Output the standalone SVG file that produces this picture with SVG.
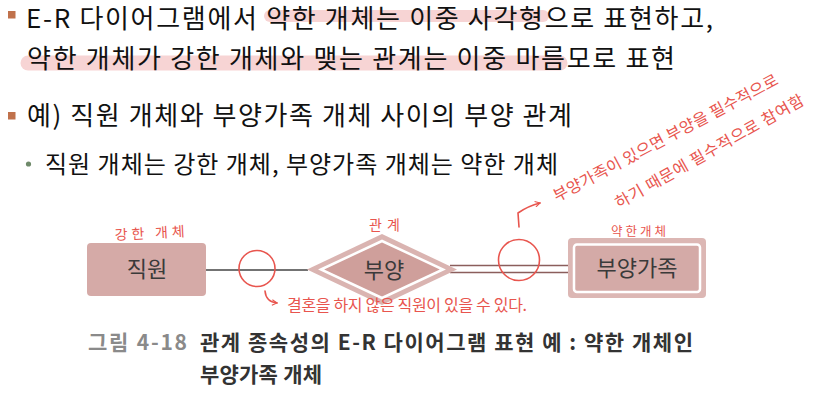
<svg xmlns="http://www.w3.org/2000/svg" width="820" height="403" viewBox="0 0 820 403">
<style>
.t{font-family:"Noto Sans CJK KR","Noto Sans",sans-serif;fill:#111}
.big{font-size:26px}
.mid{font-size:24px}
.hand{font-family:"Noto Sans CJK KR",sans-serif;fill:#e8554e}
.red{fill:none;stroke:#e8554e;stroke-width:1.6;stroke-linecap:round;stroke-linejoin:round}
.hl{fill:none;stroke:#f7d4d4;stroke-linecap:round}
.lbl{font-family:"Noto Sans CJK KR",sans-serif;font-size:22px;fill:#3a3a3a;text-anchor:middle}
.cap{font-family:"Noto Sans CJK KR",sans-serif;font-size:21px;font-weight:bold}
</style>
<defs>
<marker id="ah" viewBox="0 0 10 10" refX="8" refY="5" markerWidth="7" markerHeight="7" orient="auto" markerUnits="userSpaceOnUse">
<path d="M1,1 L8,5 L1,9" fill="none" stroke="#e8554e" stroke-width="1.6"/>
</marker>
</defs>
<rect width="820" height="403" fill="#ffffff"/>
<!-- highlights -->
<path class="hl" d="M270,16 L543,16" stroke-width="12"/>
<path class="hl" d="M28,63 L560,63" stroke-width="15"/>
<!-- bullets -->
<rect x="8" y="11" width="7.5" height="7.5" fill="#c0714b"/>
<rect x="8" y="112" width="7.5" height="7.5" fill="#c0714b"/>
<circle cx="28.5" cy="164" r="2.6" fill="#6f8a6a"/>
<text class="t big" x="26" y="28" textLength="687">E-R 다이어그램에서 약한 개체는 이중 사각형으로 표현하고,</text>
<text class="t big" x="27" y="68" textLength="648">약한 개체가 강한 개체와 맺는 관계는 이중 마름모로 표현</text>
<text class="t big" x="27" y="125" textLength="545">예) 직원 개체와 부양가족 개체 사이의 부양 관계</text>
<text class="t mid" x="45" y="173" textLength="513">직원 개체는 강한 개체, 부양가족 개체는 약한 개체</text>
<!-- connectors -->
<g id="connectors">
<line x1="206" y1="270" x2="308" y2="270" stroke="#444" stroke-width="1.6"/>
<line x1="450" y1="265.5" x2="568" y2="265.5" stroke="#8b5e5c" stroke-width="1.4"/>
<line x1="450" y1="272.5" x2="568" y2="272.5" stroke="#8b5e5c" stroke-width="1.4"/>
</g>
<!-- nodes -->
<g id="node-jikwon">
<rect x="87" y="243" width="119" height="53" rx="4" fill="#d5aaa7"/>
<text class="lbl" x="147" y="277">직원</text>
</g>
<g id="node-buyang">
<polygon points="307,269.5 382,234 457,269.5 382,305" fill="#dab4b1"/>
<polygon points="321,269.5 382,241 443,269.5 382,298" fill="#cf9f9b" stroke="#ffffff" stroke-width="2.5"/>
<text class="lbl" x="384" y="278" font-size="23">부양</text>
</g>
<g id="node-buyanggajok">
<rect x="568" y="238" width="138" height="60" rx="4" fill="#dcb7b4"/>
<rect x="574" y="244.5" width="126" height="47.5" rx="3" fill="#d4aaa7" stroke="#ffffff" stroke-width="2.5"/>
<text class="lbl" x="637" y="276">부양가족</text>
</g>
<!-- annotations -->
<g id="annotations">
<circle class="red" cx="257" cy="268.5" r="18"/>
<circle class="red" cx="519" cy="260" r="20.5"/>
<text class="hand" x="115" y="240" font-size="14" textLength="70" transform="rotate(-3 115 240)">강한 개체</text>
<text class="hand" x="369" y="230" font-size="14" textLength="31">관계</text>
<text class="hand" x="611" y="236" font-size="12.5" textLength="55">약한개체</text>
<path class="red" d="M265,291 Q266,302 277,303" marker-end="url(#ah)"/>
<text class="hand" x="287" y="311" font-size="16" textLength="240">결혼을 하지 않은  직원이   있을 수 있다.</text>
<path class="red" d="M519,227 L518,213 Q528,206 540,203" marker-end="url(#ah)"/>
<text class="hand" x="557" y="202" font-size="16" textLength="252" transform="rotate(-28 557 202)">부양가족이  있으면  부양을  필수적으로</text>
<text class="hand" x="619" y="209" font-size="16" textLength="214" transform="rotate(-29.5 619 209)">하기  때문에 필수적으로 참여함</text>
</g>
<!-- caption -->
<text class="cap" x="88" y="350" fill="#8a8a8a" textLength="99">그림 4-18</text>
<text class="cap" x="200" y="350" fill="#333" textLength="493">관계 종속성의 E-R 다이어그램 표현 예 : 약한 개체인</text>
<text class="cap" x="200" y="382" fill="#333" textLength="122">부양가족 개체</text>
</svg>
